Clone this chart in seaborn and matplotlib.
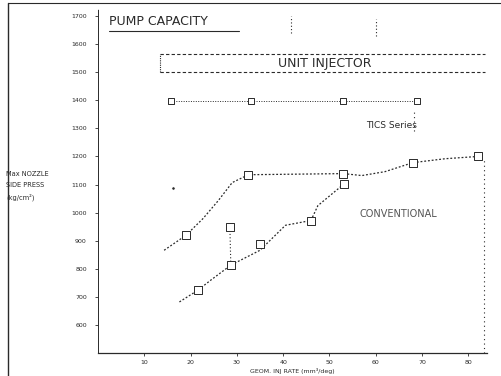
import matplotlib
matplotlib.use("Agg")
import matplotlib.pyplot as plt
import seaborn as sns
import pandas as pd

sns.set_theme(style="white")
plt.rcParams['font.family'] = ['DejaVu Sans']

# ---- data ----
tics_x = [14.3, 19.0, 22.7, 26.0, 29.0, 32.5, 53.0, 57.0, 62.0, 68.0, 75.0, 82.0]
tics_y = [866, 919, 979, 1043, 1107, 1135, 1139, 1132, 1146, 1178, 1192, 1200]
tics_box_x = [19.0, 32.5, 53.0, 68.0, 82.0]
tics_box_y = [919, 1135, 1139, 1178, 1200]

conv_x = [17.6, 21.6, 24.4, 28.7, 35.0, 40.5, 46.0, 47.5, 53.2]
conv_y = [682, 724, 760, 813, 866, 955, 972, 1025, 1103]
conv_box_x = [21.6, 28.7, 28.5, 35.0, 46.0, 53.2]
conv_box_y = [724, 813, 948, 890, 972, 1103]

branch_x = [28.5, 28.7]
branch_y = [948, 813]

single_x = [16.3]
single_y = [1086]

x_ticks = [10, 20, 30, 40, 50, 60, 70, 80]
y_ticks = [600, 700, 800, 900, 1000, 1100, 1200, 1300, 1400, 1500, 1600, 1700]

ui_row_x = [15.8, 33.0, 53.0, 69.0]
ui_row_y = [1398, 1398, 1398, 1398]

ink = '#2a2a2a'

fig = plt.figure(figsize=(5.02, 3.76), dpi=100)
ax = fig.add_axes([0.195, 0.061, 0.775, 0.915])

tics_df = pd.DataFrame({'x': tics_x, 'y': tics_y})
conv_df = pd.DataFrame({'x': conv_x, 'y': conv_y})
sns.lineplot(data=tics_df, x='x', y='y', ax=ax, color=ink, lw=0.9,
             linestyle=(0, (1.5, 1.5)), sort=False)
sns.lineplot(data=conv_df, x='x', y='y', ax=ax, color=ink, lw=0.9,
             linestyle=(0, (1.5, 1.5)), sort=False)
sns.lineplot(x=branch_x, y=branch_y, ax=ax, color=ink, lw=0.8,
             linestyle=(0, (1, 2)), sort=False)
sns.scatterplot(x=tics_box_x, y=tics_box_y, ax=ax, marker='s', s=32,
                facecolor='white', edgecolor=ink, linewidth=0.7, zorder=3)
sns.scatterplot(x=conv_box_x, y=conv_box_y, ax=ax, marker='s', s=32,
                facecolor='white', edgecolor=ink, linewidth=0.7, zorder=3)
sns.scatterplot(x=single_x, y=single_y, ax=ax, marker='.', s=20, color=ink)

# unit injector row
ax.plot([ui_row_x[0], ui_row_x[-1]], [ui_row_y[0], ui_row_y[-1]], color=ink,
        lw=0.7, linestyle=(0, (1, 1.5)))
sns.scatterplot(x=ui_row_x, y=ui_row_y, ax=ax, marker='s', s=24,
                facecolor='white', edgecolor=ink, linewidth=0.7, zorder=3)

# vertical dotted at right
ax.plot([83.4, 83.4], [500, 1190], color=ink, lw=0.8, linestyle=(0, (1, 3)))
ax.plot([68.3, 68.3], [1290, 1360], color=ink, lw=0.8, linestyle=(0, (1, 3)))

# unit injector box
ax.plot([13.5, 83.5], [1565, 1565], color=ink, lw=0.8, linestyle=(0, (3, 2)))
ax.plot([13.5, 83.5], [1500, 1500], color=ink, lw=0.8, linestyle=(0, (3, 2)))
ax.plot([13.5, 13.5], [1500, 1565], color=ink, lw=0.8, linestyle=(0, (1, 1)))
ax.text(49.0, 1532, 'UNIT INJECTOR', ha='center', va='center', fontsize=9,
        color=ink)

# small marks at top
ax.plot([41.8, 41.8], [1640, 1700], color=ink, lw=0.8, linestyle=(0, (1, 2)))
ax.plot([60.0, 60.0], [1630, 1690], color=ink, lw=0.8, linestyle=(0, (1, 2)))

ax.text(2.5, 1682, 'PUMP CAPACITY', ha='left', va='center', fontsize=9,
        color=ink)
ax.plot([2.5, 30.5], [1648, 1648], color=ink, lw=0.8)

ax.text(58.0, 1312, 'TICS Series', ha='left', va='center', fontsize=6.5,
        color=ink)
ax.text(56.5, 995, 'CONVENTIONAL', ha='left', va='center', fontsize=7,
        color='#555555')

ax.set_xlim(0, 84)
ax.set_ylim(500, 1725)
ax.set_xticks(x_ticks)
ax.set_yticks(y_ticks)
ax.set_xticklabels([str(v) for v in x_ticks], fontsize=4.5, color=ink)
ax.set_yticklabels([str(v) for v in y_ticks], fontsize=4.5, color=ink)
ax.tick_params(axis='y', length=2, width=0.6, color=ink, pad=6, left=True)
ax.tick_params(axis='x', length=2, width=0.6, color=ink, pad=3, bottom=True)
for s in ['top', 'right']:
    ax.spines[s].set_visible(False)
ax.spines['left'].set_linestyle((0, (1, 1)))
ax.spines['left'].set_color(ink)
ax.spines['left'].set_linewidth(0.7)
ax.spines['bottom'].set_color(ink)
ax.spines['bottom'].set_linewidth(0.9)
ax.set_xlabel('GEOM. INJ RATE (mm³/deg)', fontsize=4.5, color=ink, labelpad=2)
ax.set_ylabel('')

fig.text(0.012, 0.505, 'Max NOZZLE\nSIDE PRESS\n(kg/cm²)', fontsize=4.8,
         ha='left', va='center', color=ink, linespacing=1.9)

# scan frame
fig.add_artist(plt.Line2D([0.016, 1.0], [0.992, 0.992], color=ink, lw=0.8,
                          transform=fig.transFigure))
fig.add_artist(plt.Line2D([0.016, 0.016], [0.0, 0.992], color=ink, lw=1.0,
                          transform=fig.transFigure))

fig.savefig('out.png', dpi=100)
